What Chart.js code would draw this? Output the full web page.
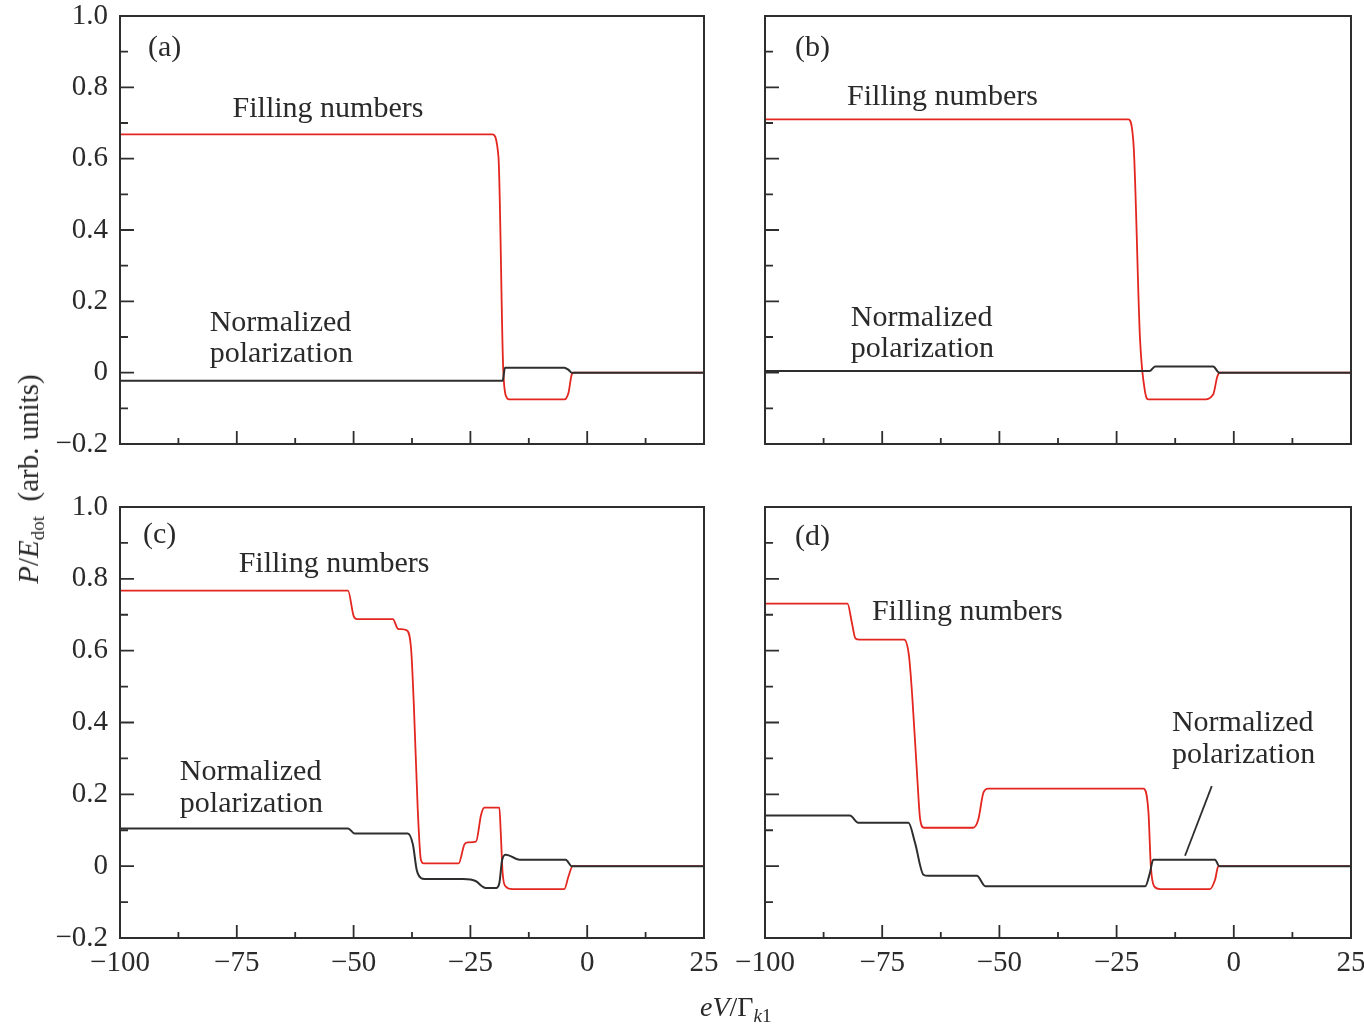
<!DOCTYPE html>
<html>
<head>
<meta charset="utf-8">
<script src="https://cdn.jsdelivr.net/npm/chart.js@4.4.1/dist/chart.umd.min.js"></script>
<style>
    body { margin: 0; background: #fff; }
    #wrap { position: relative; width: 1364px; height: 1028px; overflow: hidden; }
    #wrap canvas { position: absolute; left: 0; top: 0; }
    .axis-title { position: absolute; font-family: "Liberation Serif", "Times New Roman", serif; color: #2a2a2a; white-space: nowrap; font-size: 28px; line-height: 28px; }
    .axis-title i { font-style: italic; }
    .axis-title sub { font-size: 19px; vertical-align: -6px; line-height: 0; }
    #ytitle { left: 28px; top: 479px; font-size: 29px; transform: translate(-50%, -50%) rotate(-90deg); }
    #xtitle { left: 700px; top: 993px; }
</style>
</head>
<body>
<div id="wrap">
    <canvas id="pa" width="1364" height="1028"></canvas>
    <canvas id="pb" width="1364" height="1028"></canvas>
    <canvas id="pc" width="1364" height="1028"></canvas>
    <canvas id="pd" width="1364" height="1028"></canvas>
    <div class="axis-title" id="ytitle"><i>P</i>/<i>E</i><sub>dot</sub>&nbsp; (arb. units)</div>
    <div class="axis-title" id="xtitle"><i>eV</i>/Γ<sub><i>k</i>1</sub></div>
</div>
<script>
// axis ticks
const xTicks = [-100, -75, -50, -25, 0, 25];
const xMinor = [-87.5, -62.5, -37.5, -12.5, 12.5];
const yTicks = [-0.2, 0, 0.2, 0.4, 0.6, 0.8, 1.0];
const yMinor = [-0.1, 0.1, 0.3, 0.5, 0.7, 0.9];

// (a) curves, [eV/Γ, P/E]
const aFilling = [[-100, 0.668], [-20.3, 0.668], [-19.0, 0.606], [-18.0, 0.019], [-17.4, -0.065], [-16.7, -0.075],
    [-4.9, -0.075], [-4.0, -0.056], [-3.3, -0.005], [-2.8, 0], [25, 0]];
const aPolar = [[-100, -0.023], [-18.1, -0.023], [-17.6, 0.014], [-4.9, 0.014], [-4.0, 0.008], [-3.3, 0], [25, 0]];

// (b)
const bFilling = [[-100, 0.71], [-22.5, 0.71], [-21.4, 0.643], [-20.0, 0.093], [-18.9, -0.056], [-18.2, -0.075],
    [-6.5, -0.075], [-4.4, -0.061], [-3.5, -0.01], [-2.9, 0], [25, 0]];
const bPolar = [[-100, 0.005], [-17.9, 0.005], [-16.8, 0.017], [-4.4, 0.017], [-3.1, 0], [25, 0]];

// (c)
const cFilling = [[-100, 0.767], [-51.2, 0.767], [-50.0, 0.697], [-49.3, 0.688], [-41.6, 0.688], [-40.5, 0.661],
    [-38.7, 0.657], [-37.7, 0.606], [-37.1, 0.447], [-36.3, 0.167], [-35.6, 0.018], [-35.0, 0.008],
    [-27.5, 0.008], [-26.3, 0.06], [-25.6, 0.066], [-23.8, 0.068], [-22.7, 0.144], [-22.0, 0.163],
    [-18.8, 0.163], [-18.5, 0.093], [-18.1, -0.019], [-17.5, -0.056], [-16.0, -0.064], [-4.9, -0.064],
    [-4.0, -0.028], [-3.1, 0], [25, 0]];
const cPolar = [[-100, 0.105], [-51.2, 0.105], [-49.8, 0.091], [-38.4, 0.091], [-37.3, 0.06], [-36.5, -0.01],
    [-35.6, -0.033], [-34.8, -0.036], [-26.6, -0.036], [-23.8, -0.042], [-22.5, -0.056], [-21.7, -0.061],
    [-19.5, -0.061], [-18.8, -0.047], [-18.2, 0.018], [-17.4, 0.032], [-14.5, 0.018], [-4.6, 0.018],
    [-3.3, 0], [25, 0]];

// (d)
const dFilling = [[-100, 0.731], [-82.4, 0.731], [-81.5, 0.68], [-80.7, 0.634], [-79.8, 0.631], [-70.3, 0.631],
    [-69.3, 0.587], [-68.6, 0.475], [-67.5, 0.242], [-66.9, 0.13], [-66.1, 0.107], [-55.6, 0.107],
    [-54.5, 0.13], [-53.4, 0.205], [-52.4, 0.216], [-19.3, 0.216], [-18.2, 0.149], [-17.7, 0],
    [-17.0, -0.056], [-15.7, -0.064], [-5.1, -0.064], [-4.0, -0.038], [-3.3, 0], [25, 0]];
const dPolar = [[-100, 0.141], [-81.9, 0.141], [-80.1, 0.121], [-69.4, 0.121], [-68.0, 0.065], [-66.2, -0.024],
    [-65.2, -0.027], [-54.8, -0.027], [-53.0, -0.056], [-18.9, -0.056], [-17.9, -0.019], [-17.2, 0.018],
    [-4.0, 0.018], [-3.1, 0], [25, 0]];
const dPointer = [[-10.4, 0.029], [-4.7, 0.223]];

// text in each panel: [text, x, y(baseline)]
const aNotes = [['(a)', -94.0, 0.889], ['Filling numbers', -75.9, 0.717], ['Normalized', -80.8, 0.116], ['polarization', -80.8, 0.029]];
const bNotes = [['(b)', -93.6, 0.889], ['Filling numbers', -82.5, 0.75], ['Normalized', -81.7, 0.132], ['polarization', -81.7, 0.043]];
const cNotes = [['(c)', -95.1, 0.899], ['Filling numbers', -74.6, 0.82], ['Normalized', -87.2, 0.239], ['polarization', -87.2, 0.15]];
const dNotes = [['(d)', -93.6, 0.894], ['Filling numbers', -77.2, 0.684], ['Normalized', -13.2, 0.376], ['polarization', -13.2, 0.287]];

const W = 1364, H = 1028;
const Y_W = 70, X_H = 50;
const RED = '#e3261f', DARK = '#2e2e2e';
const SERIF = '"Liberation Serif", "Times New Roman", serif';

// y labels keep one decimal ("1.0", "0.8"), x labels are whole numbers
function fmtTick(v, decimals) {
    if (Math.abs(v) < 1e-9) return '0';
    return (v < 0 ? '\u2212' : '') + Math.abs(v).toFixed(decimals);
}

function toXY(arr) {
    return arr.map(p => ({ x: p[0], y: p[1] }));
}

// frame, inward ticks and panel text
function marcoPanel(notes) {
    return {
        id: 'marcoPanel',
        afterDatasetsDraw(chart) {
            const { ctx, chartArea: a, scales } = chart;
            const sx = scales.x, sy = scales.y;
            ctx.save();
            ctx.strokeStyle = DARK;
            ctx.lineWidth = 2;
            ctx.strokeRect(a.left, a.top, a.right - a.left, a.bottom - a.top);
            ctx.lineWidth = 1.8;
            ctx.beginPath();
            yTicks.forEach(v => { const p = sy.getPixelForValue(v); ctx.moveTo(a.left, p); ctx.lineTo(a.left + 14, p); });
            yMinor.forEach(v => { const p = sy.getPixelForValue(v); ctx.moveTo(a.left, p); ctx.lineTo(a.left + 8, p); });
            xTicks.forEach(v => { const p = sx.getPixelForValue(v); ctx.moveTo(p, a.bottom); ctx.lineTo(p, a.bottom - 13); });
            xMinor.forEach(v => { const p = sx.getPixelForValue(v); ctx.moveTo(p, a.bottom); ctx.lineTo(p, a.bottom - 6); });
            ctx.stroke();

            ctx.fillStyle = '#2a2a2a';
            ctx.font = '30px ' + SERIF;
            ctx.textAlign = 'left';
            ctx.textBaseline = 'alphabetic';
            notes.forEach(n => ctx.fillText(n[0], sx.getPixelForValue(n[1]), sy.getPixelForValue(n[2])));
            ctx.restore();
        }
    };
}

function crearPanel(id, box, filling, polar, notes, showX, showY, extra) {
    const datasets = [
        { data: toXY(polar), borderColor: DARK, borderWidth: 2 },
        { data: toXY(filling), borderColor: RED, borderWidth: 1.8 }
    ];
    if (extra) datasets.push({ data: toXY(extra), borderColor: DARK, borderWidth: 1.8, cubicInterpolationMode: 'default', tension: 0 });
    datasets.forEach(d => {
        d.showLine = true;
        d.pointRadius = 0;
        d.fill = false;
        if (!d.cubicInterpolationMode) d.cubicInterpolationMode = 'monotone';
    });

    return new Chart(document.getElementById(id), {
        type: 'scatter',
        data: { datasets: datasets },
        options: {
            responsive: false,
            animation: false,
            events: [],
            layout: {
                padding: { left: box[0] - Y_W, top: box[1], right: W - box[2], bottom: H - box[3] - X_H }
            },
            plugins: { legend: { display: false }, tooltip: { enabled: false } },
            scales: {
                x: {
                    type: 'linear', min: -100, max: 25,
                    grid: { display: false, drawTicks: false },
                    border: { display: false },
                    afterBuildTicks: s => { s.ticks = xTicks.map(v => ({ value: v })); },
                    afterFit: s => { s.height = X_H; s.paddingLeft = 0; s.paddingRight = 0; },
                    ticks: {
                        display: showX, autoSkip: false, maxRotation: 0, padding: 8,
                        color: '#2a2a2a', font: { family: SERIF, size: 29 },
                        callback: v => fmtTick(v, 0)
                    }
                },
                y: {
                    type: 'linear', min: -0.2, max: 1.0,
                    grid: { display: false, drawTicks: false },
                    border: { display: false },
                    afterBuildTicks: s => { s.ticks = yTicks.map(v => ({ value: v })); },
                    afterFit: s => { s.width = Y_W; s.paddingTop = 0; s.paddingBottom = 0; },
                    ticks: {
                        display: showY, autoSkip: false, padding: 12,
                        color: '#2a2a2a', font: { family: SERIF, size: 29 },
                        callback: v => fmtTick(v, 1)
                    }
                }
            }
        },
        plugins: [marcoPanel(notes)]
    });
}

crearPanel('pa', [120, 16, 704, 444], aFilling, aPolar, aNotes, false, true);
crearPanel('pb', [765, 16, 1351, 444], bFilling, bPolar, bNotes, false, false);
crearPanel('pc', [120, 507, 704, 938], cFilling, cPolar, cNotes, true, true);
crearPanel('pd', [765, 507, 1351, 938], dFilling, dPolar, dNotes, true, false, dPointer);
</script>
</body>
</html>
